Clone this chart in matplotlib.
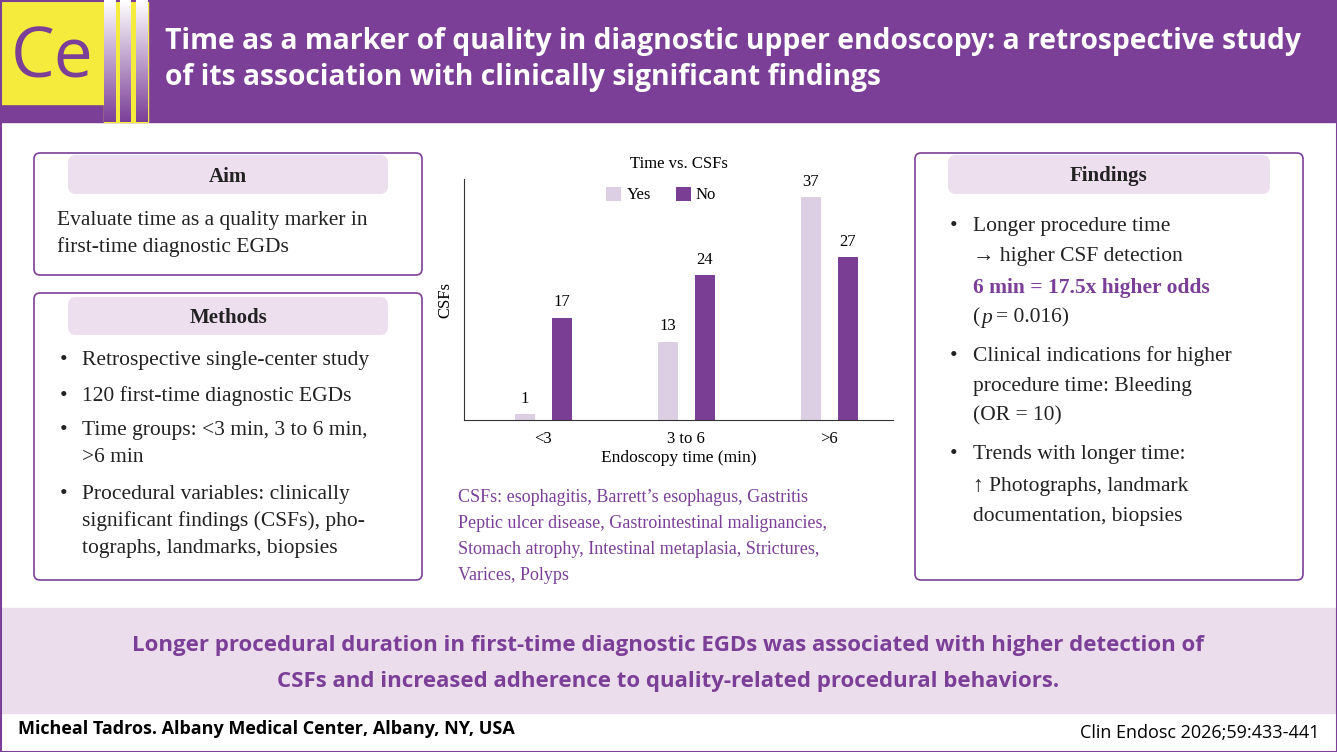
import numpy as np
import matplotlib.pyplot as plt
from matplotlib.patches import Rectangle, FancyBboxPatch

# chart data
groups = ["<3", "3 to 6", ">6"]
yes_vals = [1, 13, 37]
no_vals = [17, 24, 27]

PURPLE = "#7B3F98"
BAR_DARK = "#7A3E94"
BAR_LIGHT = "#DCCFE3"
TAB = "#EEDFEE"
BAND = "#EBDDEB"
SERIF = "Liberation Serif"
SANS = "Open Sans"

W, H = 1337, 752
fig = plt.figure(figsize=(W / 100, H / 100), dpi=100)
bg = fig.add_axes([0, 0, 1, 1])
bg.axis("off")

# header
bg.add_patch(Rectangle((0, 0), W, 122, color=PURPLE, zorder=0))
bg.add_patch(Rectangle((0, 0), 104, 104, color="#F5EB3C", zorder=1))
bg.add_patch(Rectangle((104, 0), 44, 122, color="#F5EB3C", zorder=1))
purple_rgb = np.array([0x7B, 0x3F, 0x98]) / 255
g = np.linspace(0, 1, 100).reshape(-1, 1, 1)  # 0 at top row
strip = (1 - g) * np.ones(3) + g * purple_rgb
for x0, x1 in [(104, 116), (120, 131), (136, 148)]:
    bg.imshow(strip, extent=(x0, x1, 122, 0), origin="upper", aspect="auto", zorder=2)
bg.set_xlim(0, W)
bg.set_ylim(H, 0)
bg.text(52, 60, "Ce", color=PURPLE, fontsize=50, family=SANS, ha="center", va="center", zorder=3)
bg.text(165, 42, "Time as a marker of quality in diagnostic upper endoscopy: a retrospective study",
        color="white", fontsize=20.3, fontweight="bold", family=SANS, va="center")
bg.text(165, 78, "of its association with clinically significant findings",
        color="white", fontsize=20.3, fontweight="bold", family=SANS, va="center")

# boxes
def box(x, y, w, h):
    bg.add_patch(FancyBboxPatch((x, y), w, h, boxstyle="round,pad=0,rounding_size=6",
                                fc="white", ec=PURPLE, lw=1.2))

def tab(x, y, w, h, label):
    bg.add_patch(FancyBboxPatch((x, y), w, h, boxstyle="round,pad=0,rounding_size=8",
                                fc=TAB, ec="none"))
    bg.text(x + w / 2, y + h / 2 + 2, label, fontsize=15, fontweight="bold", family=SERIF,
            ha="center", va="center", color="#222222")

box(34, 153, 388, 122)
tab(68, 155, 320, 39, "Aim")
box(34, 293, 388, 287)
tab(68, 297, 320, 38, "Methods")
box(915, 153, 388, 427)
tab(948, 155, 322, 39, "Findings")

def t(x, y, s, **kw):
    kw.setdefault("color", "#222222")
    return bg.text(x, y, s, fontsize=15.5, family=SERIF, va="center", **kw)

t(57, 220, "Evaluate time as a quality marker in")
t(57, 247, "first-time diagnostic EGDs")

methods = [
    (361, ["Retrospective single-center study"]),
    (396, ["120 first-time diagnostic EGDs"]),
    (431, ["Time groups: <3 min, 3 to 6 min,", ">6 min"]),
    (494, ["Procedural variables: clinically", "significant findings (CSFs), pho-",
           "tographs, landmarks, biopsies"]),
]
for y, lines in methods:
    t(60, y, "•")
    for i, ln in enumerate(lines):
        t(82, y + i * 27, ln)

for y in (227, 356, 455):
    t(950, y, "•")
t(973, 227, "Longer procedure time")
t(973, 257, "→ higher CSF detection")
t(973, 288, "6 min = 17.5x higher odds", color=PURPLE, fontweight="bold")
t(973, 318, "(")
t(981, 318, "p", style="italic")
t(996, 318, "= 0.016)")
t(973, 356, "Clinical indications for higher")
t(973, 386, "procedure time: Bleeding")
t(973, 416, "(OR = 10)")
t(973, 455, "Trends with longer time:")
t(973, 486, "↑ Photographs, landmark")
t(973, 516, "documentation, biopsies")

caption = ["CSFs: esophagitis, Barrett’s esophagus, Gastritis",
           "Peptic ulcer disease, Gastrointestinal malignancies,",
           "Stomach atrophy, Intestinal metaplasia, Strictures,",
           "Varices, Polyps"]
for i, ln in enumerate(caption):
    bg.text(458, 498 + i * 25.7, ln, fontsize=13, family=SERIF, va="center", color=PURPLE)

# bottom band and footer
bg.add_patch(Rectangle((0, 608), W, 105, color=BAND, zorder=0))
bg.text(668, 645, "Longer procedural duration in first-time diagnostic EGDs was associated with higher detection of",
        fontsize=16, fontweight="bold", family=SANS, color=PURPLE, ha="center", va="center")
bg.text(668, 681, "CSFs and increased adherence to quality-related procedural behaviors.",
        fontsize=16, fontweight="bold", family=SANS, color=PURPLE, ha="center", va="center")
bg.text(18, 729, "Micheal Tadros. Albany Medical Center, Albany, NY, USA",
        fontsize=13, fontweight="bold", family=SANS, color="black", va="center")
bg.text(1320, 733, "Clin Endosc 2026;59:433-441", fontsize=13, family=SANS, color="black",
        ha="right", va="center")
bg.add_patch(Rectangle((0.5, 0.5), W - 1, H - 1, fill=False, ec=PURPLE, lw=1.5))

# bar chart
ax = fig.add_axes([464 / W, 1 - 420 / H, (893 - 464) / W, (420 - 179) / H])
x = np.arange(len(groups))
bw = 0.14
ax.bar(x - 0.125, yes_vals, bw, color=BAR_LIGHT, label="Yes")
ax.bar(x + 0.135, no_vals, bw, color=BAR_DARK, label="No")
for xi, v in zip(x, yes_vals):
    ax.text(xi - 0.125, v + 1.2, str(v), ha="center", va="bottom", fontsize=12, family=SERIF)
for xi, v in zip(x, no_vals):
    ax.text(xi + 0.135, v + 1.2, str(v), ha="center", va="bottom", fontsize=12, family=SERIF)
ax.set_ylim(0, 40)
ax.set_xlim(-0.55, 2.45)
ax.set_xticks(x + 0.005)
ax.set_xticklabels(groups, fontsize=12, family=SERIF)
ax.tick_params(axis="x", length=0, pad=8)
ax.set_yticks([])
for s in ("top", "right"):
    ax.spines[s].set_visible(False)
ax.spines["left"].set_color("#333333")
ax.spines["bottom"].set_color("#333333")
ax.set_xlabel("Endoscopy time (min)", fontsize=12.5, family=SERIF, labelpad=2)
ax.set_ylabel("CSFs", fontsize=12, family=SERIF, labelpad=8)
ax.set_title("Time vs. CSFs", fontsize=12, family=SERIF, pad=8)
ax.legend(loc="upper center", bbox_to_anchor=(0.46, 1.03), ncol=2, frameon=False,
          prop={"family": SERIF, "size": 12}, handlelength=0.9, handleheight=0.9,
          handletextpad=0.3, columnspacing=1.5)

fig.savefig("out.png", dpi=100)
